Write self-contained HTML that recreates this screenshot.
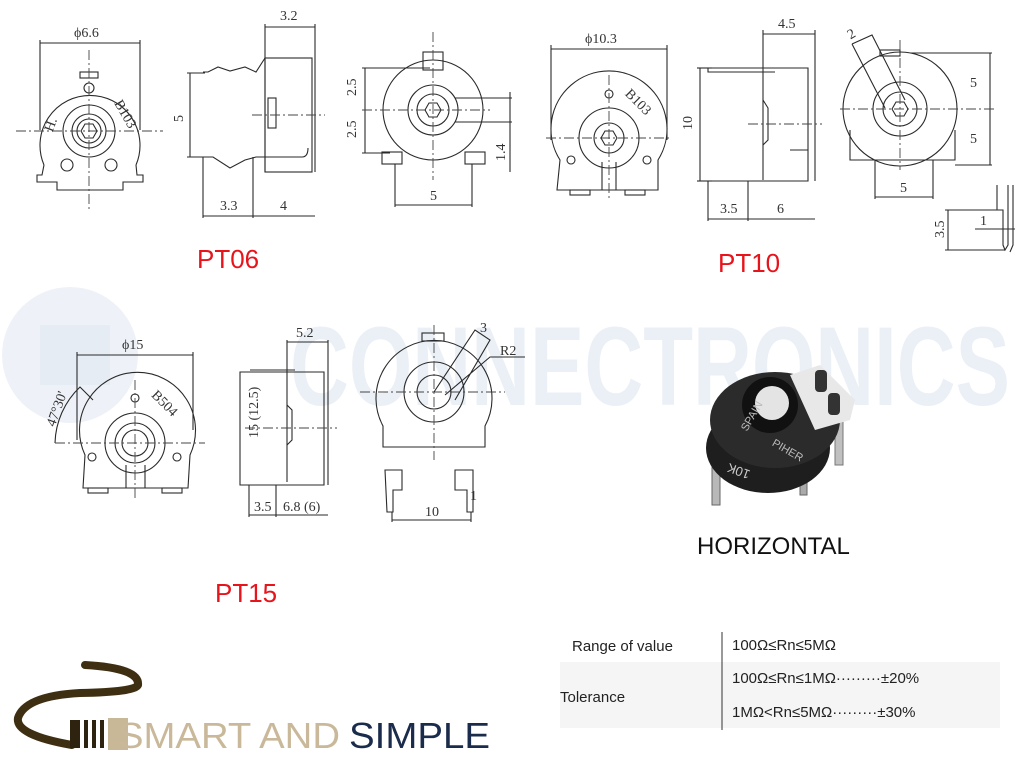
<!DOCTYPE html>
<html><head><meta charset="utf-8"><style>
html,body{margin:0;padding:0;background:#fff;width:1024px;height:768px;overflow:hidden}
svg{display:block}
.d{fill:none;stroke:#2a2a2a;stroke-width:1.1}
.c{fill:none;stroke:#444;stroke-width:0.9;stroke-dasharray:10 3 2 3}
.t{font-family:"Liberation Serif",serif;font-size:14px;fill:#333}
.r{font-family:"Liberation Sans",sans-serif;font-size:26px;fill:#e8141c}
.s{font-family:"Liberation Sans",sans-serif;font-size:15px;fill:#222}
</style></head><body>
<svg width="1024" height="768" viewBox="0 0 1024 768" xmlns="http://www.w3.org/2000/svg">
<!-- watermark -->
<circle cx="70" cy="355" r="68" fill="#eef2f8"/>
<rect x="40" y="325" width="70" height="60" fill="#e6ecf4"/>
<text x="290" y="405" font-family="Liberation Sans" font-weight="bold" font-size="112" fill="#ebf0f7" textLength="720" lengthAdjust="spacingAndGlyphs">CONNECTRONICS</text>

<!-- PT06 front -->
<line class="d" x1="40" y1="43" x2="140" y2="43"/><line class="d" x1="40" y1="40" x2="40" y2="130"/><line class="d" x1="140" y1="40" x2="140" y2="130"/>
<text class="t" x="74" y="37">ϕ6.6</text>
<path class="d" d="M44,165 A50,50 0 1 1 136,165"/>
<rect class="d" x="80" y="72" width="18" height="6"/>
<circle class="d" cx="89" cy="131" r="26"/><circle class="d" cx="89" cy="131" r="17"/><circle class="d" cx="89" cy="131" r="12"/>
<polygon class="d" points="81,131 85,124 93,124 97,131 93,138 85,138"/>
<circle class="d" cx="89" cy="88" r="5"/><circle class="d" cx="67" cy="165" r="6"/><circle class="d" cx="111" cy="165" r="6"/>
<path class="d" d="M44,165 L42,175 L37,175 L37,182 L57,182 L57,190 L123,190 L123,182 L143,182 L143,175 L137,175 L136,165"/>
<line class="c" x1="16" y1="131" x2="163" y2="131"/><line class="c" x1="89" y1="50" x2="89" y2="212"/>
<text class="t" x="110" y="110" transform="rotate(60 118 110)">B103</text>
<text class="t" x="48" y="130" transform="rotate(-70 52 128)">H.</text>

<!-- PT06 side -->
<line class="d" x1="265" y1="27" x2="315" y2="27"/><line class="d" x1="265" y1="24" x2="265" y2="172"/><line class="d" x1="315" y1="24" x2="315" y2="172"/>
<text class="t" x="280" y="20">3.2</text>
<rect class="d" x="265" y="58" width="47" height="114"/>
<path class="d" d="M203,72 L208,72 L218,67 L230,71 L245,67 L256,72 L265,58 L276,58"/>
<path class="d" d="M203,157 L213,157 L230,168 L245,160 L256,157 L302,157 Q308,157 308,148"/>
<rect class="d" x="268" y="98" width="8" height="30"/>
<line class="d" x1="190" y1="73" x2="190" y2="157"/><line class="d" x1="187" y1="73" x2="205" y2="73"/><line class="d" x1="187" y1="157" x2="205" y2="157"/>
<text class="t" x="173" y="118" transform="rotate(-90 180 115)">5</text>
<line class="c" x1="252" y1="115" x2="325" y2="115"/>
<line class="d" x1="203" y1="157" x2="203" y2="218"/><line class="d" x1="253" y1="157" x2="253" y2="218"/>
<line class="d" x1="203" y1="216" x2="315" y2="216"/>
<text class="t" x="220" y="210">3.3</text><text class="t" x="280" y="210">4</text>

<!-- PT06 back -->
<circle class="d" cx="433" cy="110" r="50"/><circle class="d" cx="433" cy="110" r="25"/><circle class="d" cx="433" cy="110" r="16"/>
<polygon class="d" points="425,110 429,103 437,103 441,110 437,117 429,117"/>
<rect class="d" x="423" y="52" width="20" height="18"/>
<rect class="d" x="382" y="152" width="20" height="12"/><rect class="d" x="465" y="152" width="20" height="12"/>
<line class="d" x1="395" y1="164" x2="395" y2="207"/><line class="d" x1="472" y1="164" x2="472" y2="207"/>
<line class="d" x1="395" y1="205" x2="472" y2="205"/><text class="t" x="430" y="200">5</text>
<line class="d" x1="365" y1="68" x2="365" y2="153"/><line class="d" x1="362" y1="68" x2="430" y2="68"/><line class="d" x1="362" y1="153" x2="390" y2="153"/>
<line class="c" x1="362" y1="110" x2="490" y2="110"/><line class="c" x1="433" y1="32" x2="433" y2="180"/>
<text class="t" x="346" y="94" transform="rotate(-90 352 90)">2.5</text><text class="t" x="346" y="136" transform="rotate(-90 352 132)">2.5</text>
<line class="d" x1="455" y1="98" x2="512" y2="98"/><line class="d" x1="455" y1="122" x2="512" y2="122"/><line class="d" x1="510" y1="92" x2="510" y2="172"/>
<text class="t" x="496" y="158" transform="rotate(-90 502 155)">1.4</text>
<text class="r" x="197" y="268">PT06</text>

<!-- PT10 front -->
<line class="d" x1="551" y1="49" x2="667" y2="49"/><line class="d" x1="551" y1="45" x2="551" y2="140"/><line class="d" x1="667" y1="45" x2="667" y2="140"/>
<text class="t" x="585" y="43">ϕ10.3</text>
<path class="d" d="M560,160 A58,58 0 1 1 658,160 L658,190 L557,190 Z"/>
<rect class="d" x="570" y="190" width="20" height="5"/><rect class="d" x="625" y="190" width="20" height="5"/>
<circle class="d" cx="609" cy="138" r="30"/><circle class="d" cx="609" cy="138" r="15"/>
<polygon class="d" points="601,138 605,131 613,131 617,138 613,145 605,145"/>
<path class="d" d="M602,162 L602,190 M616,162 L616,190"/>
<circle class="d" cx="609" cy="94" r="4"/><circle class="d" cx="571" cy="160" r="4"/><circle class="d" cx="647" cy="160" r="4"/>
<line class="c" x1="546" y1="138" x2="672" y2="138"/><line class="c" x1="609" y1="75" x2="609" y2="200"/>
<text class="t" x="622" y="100" transform="rotate(45 630 100)">B103</text>

<!-- PT10 side -->
<line class="d" x1="763" y1="34" x2="815" y2="34"/><line class="d" x1="763" y1="30" x2="763" y2="180"/><line class="d" x1="815" y1="30" x2="815" y2="181"/>
<text class="t" x="778" y="28">4.5</text>
<path class="d" d="M708,68 L808,68 L808,181 L708,181 M708,68 L708,72 L775,72 M763,100 L768,108 L768,140 L763,145 M790,150 L808,150"/>
<line class="d" x1="700" y1="68" x2="700" y2="181"/><line class="d" x1="697" y1="68" x2="712" y2="68"/><line class="d" x1="697" y1="181" x2="712" y2="181"/>
<text class="t" x="682" y="128" transform="rotate(-90 688 124)">10</text>
<line class="c" x1="748" y1="124" x2="822" y2="124"/>
<line class="d" x1="708" y1="181" x2="708" y2="221"/><line class="d" x1="748" y1="181" x2="748" y2="221"/><line class="d" x1="708" y1="219" x2="815" y2="219"/>
<text class="t" x="720" y="213">3.5</text><text class="t" x="777" y="213">6</text>
<text class="r" x="718" y="272">PT10</text>

<!-- PT10 back -->
<circle class="d" cx="900" cy="109" r="57"/><circle class="d" cx="900" cy="109" r="27"/><circle class="d" cx="900" cy="109" r="17"/>
<polygon class="d" points="892,109 896,102 904,102 908,109 904,116 896,116"/>
<path class="d" d="M850,130 L850,160 L955,160 L955,130"/>
<rect class="d" x="880" y="50" width="20" height="6"/>
<path class="d" d="M852,44 L872,35 L905,100 M852,44 L885,108"/>
<text class="t" x="848" y="38" transform="rotate(-30 852 34)">2</text>
<line class="d" x1="875" y1="160" x2="875" y2="199"/><line class="d" x1="933" y1="160" x2="933" y2="199"/><line class="d" x1="875" y1="197" x2="933" y2="197"/>
<text class="t" x="900" y="192">5</text>
<line class="d" x1="910" y1="53" x2="992" y2="53"/><line class="d" x1="955" y1="165" x2="992" y2="165"/><line class="d" x1="990" y1="53" x2="990" y2="165"/>
<line class="c" x1="840" y1="109" x2="995" y2="109"/><line class="c" x1="900" y1="40" x2="900" y2="170"/>
<text class="t" x="970" y="87">5</text><text class="t" x="970" y="143">5</text>
<path class="d" d="M997,185 L997,210 L1003,210 L1003,245 L1005,250 L1008,245 L1008,185 M1013,185 L1013,245 L1010,252"/>
<line class="d" x1="945" y1="210" x2="1000" y2="210"/><line class="d" x1="945" y1="250" x2="1005" y2="250"/><line class="d" x1="948" y1="210" x2="948" y2="250"/>
<line class="d" x1="975" y1="229" x2="1015" y2="229"/>
<text class="t" x="932" y="234" transform="rotate(-90 940 230)" font-size="12">3.5</text><text class="t" x="980" y="225" font-size="12">1</text>

<!-- PT15 front -->
<line class="d" x1="77" y1="355" x2="193" y2="355"/><line class="d" x1="77" y1="352" x2="77" y2="440"/><line class="d" x1="193" y1="352" x2="193" y2="430"/>
<text class="t" x="122" y="349">ϕ15</text>
<path class="d" d="M85,455 A58,58 0 1 1 190,455 L188,488 L83,488 Z"/>
<rect class="d" x="88" y="488" width="20" height="5"/><rect class="d" x="162" y="488" width="20" height="5"/>
<circle class="d" cx="135" cy="443" r="30"/><circle class="d" cx="135" cy="443" r="20"/><circle class="d" cx="135" cy="443" r="13"/>
<path class="d" d="M126,465 L126,488 M145,465 L145,488"/>
<circle class="d" cx="135" cy="398" r="4"/><circle class="d" cx="92" cy="457" r="4"/><circle class="d" cx="177" cy="457" r="4"/>
<path class="d" d="M55,443 A80,80 0 0 1 80,387 L93,400"/>
<line class="c" x1="55" y1="443" x2="205" y2="443"/><line class="c" x1="135" y1="380" x2="135" y2="500"/>
<text class="t" x="149" y="400" transform="rotate(45 155 400)">B504</text>
<text class="t" x="46" y="425" transform="rotate(-70 52 420)" font-size="11">47°30'</text>

<!-- PT15 side -->
<line class="d" x1="287" y1="342" x2="328" y2="342"/><line class="d" x1="287" y1="340" x2="287" y2="482"/><line class="d" x1="328" y1="340" x2="328" y2="485"/>
<text class="t" x="296" y="337">5.2</text>
<path class="d" d="M240,372 L324,372 L324,485 L240,485 Z M250,370 L295,370 M287,405 L292,410 L292,440 L287,445"/>
<line class="c" x1="245" y1="428" x2="337" y2="428"/>
<text class="t" x="220" y="460" transform="rotate(-90 228 430)" font-size="12">15 (12.5)</text>
<line class="d" x1="249" y1="485" x2="249" y2="517"/><line class="d" x1="276" y1="485" x2="276" y2="517"/><line class="d" x1="249" y1="515" x2="328" y2="515"/>
<text class="t" x="254" y="511" font-size="12">3.5</text><text class="t" x="283" y="511" font-size="12">6.8 (6)</text>
<text class="r" x="215" y="602">PT15</text>

<!-- PT15 back -->
<path class="d" d="M383,426 A58,58 0 1 1 485,426 L485,447 L383,447 Z"/>
<rect class="d" x="422" y="333" width="22" height="8"/>
<circle class="d" cx="434" cy="392" r="30"/><circle class="d" cx="434" cy="392" r="17"/>
<line class="c" x1="360" y1="392" x2="505" y2="392"/><line class="c" x1="434" y1="325" x2="434" y2="460"/>
<path class="d" d="M385,470 L402,470 L402,490 L393,490 L393,512 L387,512 Z M455,470 L473,470 L473,512 L467,512 L467,490 L455,490 Z"/>
<line class="d" x1="392" y1="512" x2="392" y2="522"/><line class="d" x1="471" y1="512" x2="471" y2="522"/><line class="d" x1="392" y1="520" x2="471" y2="520"/>
<text class="t" x="425" y="516" font-size="12">10</text><text class="t" x="470" y="500" font-size="12">1</text>
<path class="d" d="M434,392 L475,330 L490,340 L455,400 M445,395 L490,357 L525,357"/>
<text class="t" x="500" y="355" font-size="12">R2</text><text class="t" x="480" y="332" font-size="12">3</text>

<!-- photo -->
<rect x="800" y="440" width="7" height="55" fill="#aaa" stroke="#666"/>
<rect x="712" y="455" width="8" height="50" fill="#b8b8b8" stroke="#666"/>
<rect x="835" y="400" width="8" height="65" fill="#c0c0c0" stroke="#777"/>
<ellipse cx="768" cy="448" rx="62" ry="45" fill="#1e1e1e"/>
<ellipse cx="775" cy="420" rx="65" ry="48" fill="#2b2b2b"/>
<path d="M790,375 L820,365 L855,400 L850,420 L815,430 Z" fill="#e8e8e8"/>
<rect x="815" y="370" width="12" height="22" rx="4" fill="#333"/><rect x="828" y="393" width="12" height="22" rx="4" fill="#333"/>
<circle cx="770" cy="405" r="28" fill="#111"/><circle cx="772" cy="403" r="17" fill="#e4e4e4"/>
<text x="740" y="430" fill="#bbb" font-family="Liberation Sans" font-size="11" transform="rotate(-60 745 425)">SPAIN</text>
<text x="770" y="450" fill="#bbb" font-family="Liberation Sans" font-size="11" transform="rotate(30 780 450)">PIHER</text>
<text x="718" y="465" fill="#ccc" font-family="Liberation Sans" font-size="13" transform="rotate(200 735 465)">10K</text>
<text x="697" y="554" font-family="Liberation Sans" font-size="24" fill="#111">HORIZONTAL</text>

<!-- table -->
<rect x="560" y="662" width="440" height="66" fill="#f5f5f5"/>
<line x1="722" y1="632" x2="722" y2="730" stroke="#333" stroke-width="1"/>
<text class="s" x="572" y="651">Range of value</text>
<text class="s" x="560" y="702">Tolerance</text>
<text class="s" x="732" y="650" font-size="14">100Ω≤Rn≤5MΩ</text>
<text class="s" x="732" y="683" font-size="14">100Ω≤Rn≤1MΩ·········±20%</text>
<text class="s" x="732" y="717" font-size="14">1MΩ&lt;Rn≤5MΩ·········±30%</text>

<!-- logo -->
<path d="M85,665 Q140,668 138,685 Q135,692 80,693 Q25,696 18,718 Q15,735 72,745" fill="none" stroke="#3e2f12" stroke-width="8" stroke-linecap="round"/>
<path d="M70,720 L80,720 L80,748 L70,748 Z M84,720 L88,720 L88,748 L84,748 Z M92,720 L96,720 L96,748 L92,748 Z M100,720 L104,720 L104,748 L100,748 Z" fill="#2e230f"/>
<rect x="108" y="718" width="20" height="32" fill="#c8b898"/>
<text x="118" y="748" font-family="Liberation Sans" font-size="36" fill="#c9b99a" textLength="222" lengthAdjust="spacingAndGlyphs">SMART AND</text>
<text x="349" y="748" font-family="Liberation Sans" font-size="36" fill="#1a2b4c" textLength="141" lengthAdjust="spacingAndGlyphs">SIMPLE</text>
</svg>
</body></html>
